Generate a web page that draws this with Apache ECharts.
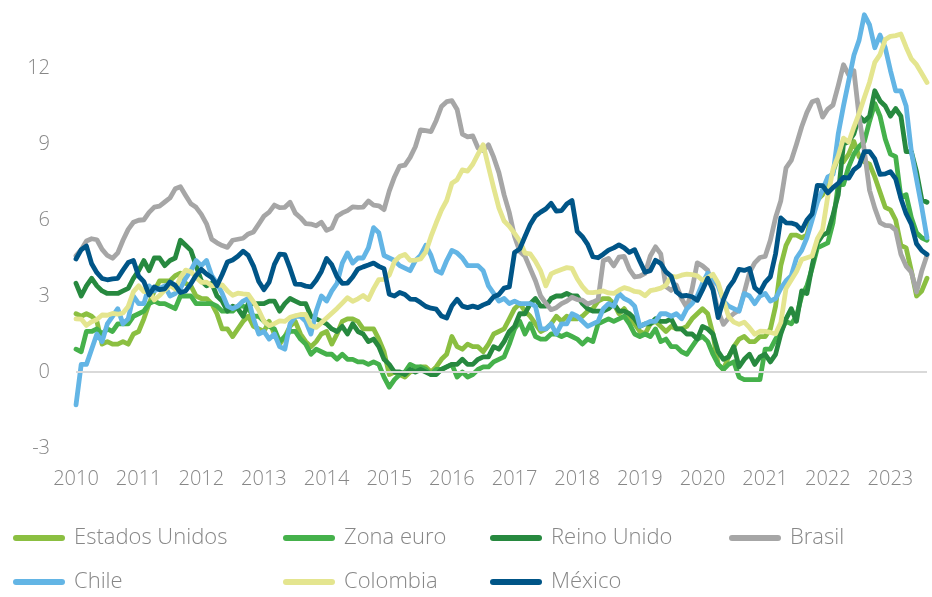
<!DOCTYPE html>
<html>
<head>
<meta charset="utf-8">
<script src="https://cdn.jsdelivr.net/npm/echarts@6/dist/echarts.min.js"></script>
<style>
html,body{margin:0;padding:0;background:#fff;}
#chart{width:932px;height:597px;}
</style>
</head>
<body>
<div id="chart"></div>
<script>
const startYear = 2010;
const nMonths = 164; // Jan 2010 .. Aug 2023
const yTicks = [-3, 0, 3, 6, 9, 12, 15];

const seriesNames = ['Estados Unidos','Zona euro','Reino Unido','Brasil','Chile','Colombia','México'];
const seriesColors = ['#8BBF41','#45B14B','#27893F','#A6A6A6','#63B5E5','#E4E58F','#005587'];

const estadosUnidos = [
2.3,2.2,2.3,2.2,2.0,1.1,1.2,1.1,1.1,1.2,1.1,1.5,
1.6,2.1,2.7,3.2,3.6,3.6,3.6,3.8,3.9,3.5,3.4,3.0,
2.9,2.9,2.7,2.3,1.7,1.7,1.4,1.7,2.0,2.2,1.8,1.7,
1.6,2.0,1.5,1.1,1.4,1.8,2.0,1.5,1.2,1.0,1.2,1.5,
1.6,1.1,1.5,2.0,2.1,2.1,2.0,1.7,1.7,1.7,1.3,0.8,
-0.1,0.0,-0.1,-0.2,0.0,0.1,0.2,0.2,0.0,0.2,0.5,0.7,
1.4,1.0,0.9,1.1,1.0,1.0,0.8,1.1,1.5,1.6,1.7,2.1,
2.5,2.7,2.4,2.2,1.9,1.6,1.7,1.9,2.2,2.0,2.2,2.1,
2.1,2.2,2.4,2.5,2.8,2.9,2.9,2.7,2.3,2.5,2.2,1.9,
1.6,1.5,1.9,2.0,1.8,1.6,1.8,1.7,1.7,1.8,2.1,2.3,
2.5,2.3,1.5,0.3,0.1,0.6,1.0,1.3,1.4,1.2,1.2,1.4,
1.4,1.7,2.6,4.2,5.0,5.4,5.4,5.3,5.4,6.2,6.8,7.0,
7.5,7.9,8.5,8.3,8.6,9.1,8.5,8.3,8.2,7.7,7.1,6.5,
6.4,6.0,5.0,4.9,4.0,3.0,3.2,3.7
];

const zonaEuro = [
0.9,0.8,1.6,1.6,1.7,1.5,1.7,1.6,1.9,1.9,1.9,2.2,
2.3,2.4,2.7,2.8,2.7,2.7,2.6,2.5,3.0,3.0,3.0,2.7,
2.7,2.7,2.7,2.6,2.4,2.4,2.4,2.6,2.6,2.5,2.2,2.2,
2.0,1.8,1.7,1.2,1.4,1.6,1.6,1.3,1.1,0.7,0.9,0.8,
0.7,0.7,0.5,0.7,0.5,0.5,0.4,0.4,0.3,0.4,0.3,-0.2,
-0.6,-0.3,-0.1,0.0,0.3,0.2,0.2,0.1,-0.1,0.1,0.1,0.2,
0.3,-0.2,0.0,-0.2,-0.1,0.1,0.2,0.2,0.4,0.5,0.6,1.1,
1.7,2.0,1.5,1.9,1.4,1.3,1.3,1.5,1.5,1.4,1.5,1.4,
1.3,1.1,1.3,1.2,1.9,2.0,2.1,2.0,2.1,2.2,1.9,1.5,
1.4,1.5,1.4,1.7,1.2,1.3,1.0,1.0,0.8,0.7,1.0,1.3,
1.4,1.2,0.7,0.3,0.1,0.3,0.4,-0.2,-0.3,-0.3,-0.3,-0.3,
0.9,0.9,1.3,1.6,2.0,1.9,2.2,3.0,3.4,4.1,4.9,5.0,
5.1,5.9,7.4,7.4,8.1,8.6,8.9,9.1,9.9,10.6,10.1,9.2,
8.6,8.5,6.9,7.0,6.1,5.5,5.3,5.2
];

const reinoUnido = [
3.5,3.0,3.4,3.7,3.4,3.2,3.1,3.1,3.1,3.2,3.3,3.7,
4.0,4.4,4.0,4.5,4.5,4.2,4.4,4.5,5.2,5.0,4.8,4.2,
3.6,3.4,3.5,3.0,2.8,2.4,2.6,2.5,2.2,2.7,2.7,2.7,
2.7,2.8,2.8,2.4,2.7,2.9,2.8,2.7,2.7,2.2,2.1,2.0,
1.9,1.7,1.6,1.8,1.5,1.9,1.6,1.5,1.2,1.3,1.0,0.5,
0.3,0.0,0.0,-0.1,0.1,0.0,0.1,0.0,-0.1,-0.1,0.1,0.2,
0.3,0.3,0.5,0.3,0.3,0.5,0.6,0.6,1.0,0.9,1.2,1.6,
1.8,2.3,2.3,2.7,2.9,2.6,2.6,2.9,3.0,3.0,3.1,3.0,
3.0,2.7,2.5,2.4,2.4,2.4,2.5,2.7,2.4,2.4,2.3,2.1,
1.8,1.9,1.9,2.1,2.0,2.0,2.1,1.7,1.7,1.5,1.5,1.3,
1.8,1.7,1.5,0.8,0.5,0.6,1.0,0.2,0.5,0.7,0.3,0.6,
0.7,0.4,0.7,1.5,2.1,2.5,2.0,3.2,3.1,4.2,5.1,5.4,
5.5,6.2,7.0,9.0,9.1,9.4,10.1,9.9,10.1,11.1,10.7,10.5,
10.1,10.4,10.1,8.7,8.7,7.9,6.8,6.7
];

const brasil = [
4.59,4.83,5.17,5.26,5.22,4.84,4.60,4.49,4.70,5.20,5.63,5.91,
5.99,6.01,6.30,6.51,6.55,6.71,6.87,7.23,7.31,6.97,6.64,6.50,
6.22,5.85,5.24,5.10,4.99,4.92,5.20,5.24,5.28,5.45,5.53,5.84,
6.15,6.31,6.59,6.49,6.50,6.70,6.27,6.09,5.86,5.84,5.77,5.91,
5.59,5.68,6.15,6.28,6.37,6.52,6.50,6.51,6.75,6.59,6.56,6.41,
7.14,7.70,8.13,8.17,8.47,8.89,9.56,9.53,9.49,9.93,10.48,10.67,
10.71,10.36,9.39,9.28,9.32,8.84,8.74,8.97,8.48,7.87,6.99,6.29,
5.35,4.76,4.57,4.08,3.60,3.00,2.71,2.46,2.54,2.70,2.80,2.95,
2.86,2.84,2.68,2.76,2.86,4.39,4.48,4.19,4.53,4.56,4.05,3.75,
3.78,3.89,4.58,4.94,4.66,3.37,3.22,3.43,2.89,2.54,3.27,4.31,
4.19,4.01,3.30,2.40,1.88,2.13,2.31,2.44,3.14,3.92,4.31,4.52,
4.56,5.20,6.10,6.76,8.06,8.35,8.99,9.68,10.25,10.67,10.74,10.06,
10.38,10.54,11.30,12.13,11.73,11.89,10.07,8.73,7.17,6.47,5.90,5.79,
5.77,5.60,4.65,4.18,3.94,3.16,3.99,4.61
];

const chile = [
-1.3,0.3,0.3,0.9,1.5,1.2,1.9,2.2,2.5,1.9,2.1,3.0,
2.7,2.7,3.4,3.2,3.3,3.4,3.0,3.1,3.3,3.7,4.0,4.4,
4.2,4.4,3.8,3.5,3.1,2.6,2.5,2.6,2.8,2.9,2.1,1.5,
1.6,1.3,1.5,1.0,0.9,1.9,2.2,2.2,2.0,1.5,2.4,3.0,
2.8,3.2,3.5,4.3,4.7,4.3,4.5,4.5,4.9,5.7,5.5,4.6,
4.5,4.4,4.2,4.1,4.0,4.4,4.6,5.0,4.6,4.0,3.9,4.4,
4.8,4.7,4.5,4.2,4.2,4.2,4.0,3.4,3.1,2.8,2.9,2.7,
2.8,2.7,2.7,2.7,2.6,1.7,1.7,1.9,1.5,1.9,1.9,2.3,
2.2,2.0,1.8,1.9,2.0,2.5,2.7,2.6,3.1,2.9,2.8,2.6,
1.8,1.9,2.0,2.0,2.3,2.3,2.2,2.3,2.1,2.5,2.7,3.0,
3.5,3.9,3.7,3.4,2.8,2.6,2.5,2.4,3.1,3.0,2.7,3.0,
3.1,2.8,2.9,3.3,3.6,3.8,4.5,4.8,5.3,6.0,6.7,7.2,
7.7,7.8,9.4,10.5,11.5,12.5,13.1,14.1,13.7,12.8,13.3,12.8,
11.9,11.1,11.1,10.5,8.7,7.6,6.5,5.3
];

const colombia = [
2.10,2.09,1.84,1.98,2.07,2.25,2.24,2.31,2.28,2.33,2.59,3.17,
3.40,3.17,3.19,2.84,3.02,3.23,3.42,3.27,3.73,4.02,3.96,3.73,
3.54,3.55,3.40,3.43,3.44,3.20,3.03,3.11,3.08,3.06,2.77,2.44,
2.00,1.83,1.91,2.02,2.00,2.16,2.22,2.27,2.27,1.84,1.76,1.94,
2.13,2.32,2.51,2.72,2.93,2.79,2.89,3.02,2.86,3.29,3.65,3.66,
3.82,4.36,4.56,4.64,4.41,4.42,4.46,4.74,5.35,5.89,6.39,6.77,
7.45,7.59,7.98,7.93,8.20,8.60,8.97,8.10,7.27,6.48,5.96,5.75,
5.47,5.18,4.69,4.66,4.37,3.99,3.40,3.87,3.97,4.05,4.12,4.09,
3.68,3.37,3.14,3.13,3.16,3.20,3.12,3.10,3.23,3.33,3.27,3.18,
3.15,3.01,3.21,3.25,3.31,3.43,3.79,3.75,3.82,3.86,3.84,3.80,
3.62,3.72,3.86,3.51,2.85,2.19,1.97,1.88,1.97,1.75,1.49,1.61,
1.60,1.56,1.51,1.95,3.30,3.63,3.97,4.44,4.51,4.58,5.26,5.62,
6.94,8.01,8.53,9.23,9.07,9.67,10.21,10.84,11.44,12.22,12.53,13.12,
13.25,13.28,13.34,12.82,12.36,12.13,11.78,11.43
];

const mexico = [
4.46,4.83,4.97,4.27,3.92,3.69,3.64,3.68,3.70,4.02,4.32,4.40,
3.78,3.57,3.04,3.36,3.25,3.28,3.55,3.42,3.14,3.20,3.48,3.82,
4.05,3.87,3.73,3.41,3.85,4.34,4.42,4.57,4.77,4.60,4.18,3.57,
3.25,3.55,4.25,4.65,4.63,4.09,3.47,3.46,3.39,3.36,3.62,3.97,
4.48,4.23,3.76,3.50,3.51,3.75,4.07,4.15,4.22,4.30,4.17,4.08,
3.07,3.00,3.14,3.06,2.88,2.87,2.74,2.59,2.52,2.48,2.21,2.13,
2.61,2.87,2.60,2.54,2.60,2.54,2.65,2.73,2.97,3.06,3.31,3.36,
4.72,4.86,5.35,5.82,6.16,6.31,6.44,6.66,6.35,6.37,6.63,6.77,
5.55,5.34,5.04,4.55,4.51,4.65,4.81,4.90,5.02,4.90,4.72,4.83,
4.37,3.94,4.00,4.41,4.28,3.95,3.78,3.16,3.00,3.02,2.97,2.83,
3.24,3.70,3.25,2.15,2.84,3.33,3.62,4.05,4.01,4.09,3.33,3.15,
3.54,3.76,4.67,6.08,5.89,5.88,5.81,5.59,6.00,6.24,7.37,7.36,
7.07,7.28,7.45,7.68,7.65,7.99,8.15,8.70,8.70,8.41,7.80,7.82,
7.91,7.62,6.85,6.25,5.84,5.06,4.79,4.64
];

const seriesData = [estadosUnidos, zonaEuro, reinoUnido, brasil, chile, colombia, mexico];

const months = [];
for (let i = 0; i < nMonths; i++) {
  const y = startYear + Math.floor(i / 12);
  const m = (i % 12) + 1;
  months.push(y + '-' + (m < 10 ? '0' + m : m));
}

const FONT = '"Open Sans", "Noto Sans", sans-serif';
const TXT = '#878787';

const chart = echarts.init(document.getElementById('chart'), null, {renderer: 'canvas'});

const series = seriesNames.map((name, i) => ({
  name: name,
  type: 'line',
  data: seriesData[i],
  showSymbol: false,
  symbol: 'none',
  smooth: false,
  z: 3,
  lineStyle: {color: seriesColors[i], width: 4.8, join: 'round', cap: 'round'},
  itemStyle: {color: seriesColors[i]},
  emphasis: {disabled: true},
  animation: false
}));

series.unshift({
  name: 'cero',
  type: 'line',
  data: [],
  z: 1,
  silent: true,
  markLine: {
    silent: true,
    symbol: 'none',
    label: {show: false},
    lineStyle: {color: '#d9d9d9', width: 2, type: 'solid'},
    emphasis: {disabled: true},
    data: [{yAxis: 0}],
    animation: false
  }
});

// legend placement: [name, left, top]
const legendSpots = [
  ['Estados Unidos', 8, 521], ['Zona euro', 278, 521], ['Reino Unido', 485, 521], ['Brasil', 724, 521],
  ['Chile', 8, 565], ['Colombia', 278, 565], ['México', 485, 565]
];

const legends = legendSpots.map(s => ({
  left: s[1],
  top: s[2],
  orient: 'horizontal',
  itemWidth: 46,
  itemHeight: 6,
  selectedMode: false,
  itemStyle: {opacity: 0},
  lineStyle: {width: 6, cap: 'round'},
  data: [s[0]],
  textStyle: {
    fontFamily: FONT,
    fontWeight: 300,
    fontSize: 22,
    color: TXT,
    lineHeight: 24,
    padding: [0, 0, 0, 7]
  }
}));

chart.setOption({
  animation: false,
  backgroundColor: '#ffffff',
  grid: {left: 76, right: 5, top: -8, bottom: 149, containLabel: false, outerBoundsMode: 'none'},
  legend: legends,
  xAxis: {
    type: 'category',
    data: months,
    boundaryGap: false,
    axisLine: {show: false},
    axisTick: {show: false},
    splitLine: {show: false},
    axisLabel: {
      interval: function (idx) { return idx % 12 === 0; },
      formatter: function (v) { return v.slice(0, 4); },
      fontFamily: FONT,
      fontWeight: 300,
      fontSize: 20,
      color: TXT,
      margin: 21
    }
  },
  yAxis: {
    type: 'value',
    min: yTicks[0],
    max: yTicks[yTicks.length - 1],
    interval: 3,
    axisLine: {show: false},
    axisTick: {show: false},
    splitLine: {show: false},
    axisLabel: {
      fontFamily: FONT,
      fontWeight: 300,
      fontSize: 20,
      color: TXT,
      margin: 26
    }
  },
  series: series
});
</script>
</body>
</html>
